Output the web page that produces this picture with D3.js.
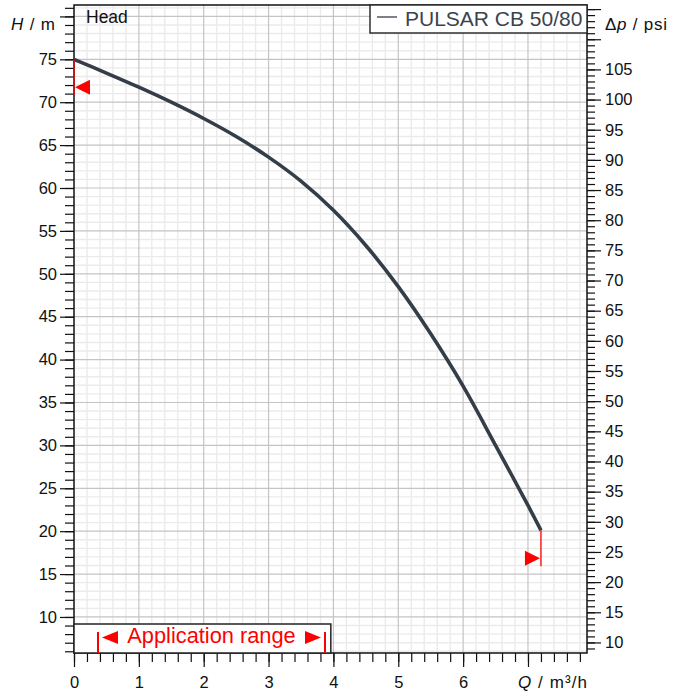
<!DOCTYPE html>
<html>
<head>
<meta charset="utf-8">
<script src="https://cdn.jsdelivr.net/npm/d3@7"></script>
<style>
  html, body { margin: 0; padding: 0; background: #fff; }
  svg { display: block; font-family: "Liberation Sans", Arial, Helvetica, sans-serif; }
</style>
</head>
<body>
<svg id="chart" width="680" height="692"></svg>
<script>
// ---- data ----
const flowQ = [0, 0.5, 1, 1.5, 2, 2.5, 3, 3.5, 4, 4.5, 5, 5.5, 6, 6.5, 7, 7.2];
const headH = [75, 73.4, 71.75, 70.0, 68.1, 66.0, 63.6, 60.8, 57.4, 53.3, 48.5, 43.0, 36.9, 30.0, 23.0, 20.1];
const xTickLabels = [0, 1, 2, 3, 4, 5, 6];
const hTickLabels = [10, 15, 20, 25, 30, 35, 40, 45, 50, 55, 60, 65, 70, 75];
const psiTickLabels = [10, 15, 20, 25, 30, 35, 40, 45, 50, 55, 60, 65, 70, 75, 80, 85, 90, 95, 100, 105];
const appRange = [0.37, 3.87];
const seriesName = "PULSAR CB 50/80";
const PSI_PER_M = 1.42233;

// ---- layout ----
const svg = d3.select("#chart");
const L = 74, R = 587, T = 5, B = 653;
const x = d3.scaleLinear().domain([0, 7.91]).range([L, R]);
const y = d3.scaleLinear().domain([5.8, 81.33]).range([B, T]);
const yPsi = d3.scaleLinear().domain([5.8 * PSI_PER_M, 81.33 * PSI_PER_M]).range([B, T]);

const fontFam = '"Liberation Sans", Arial, Helvetica, sans-serif';
const minorX = d3.range(0, 79).map(i => +(i * 0.2).toFixed(1)).filter(v => v <= 7.9);
const minorH = d3.range(6, 82);
const majorH = d3.range(10, 81, 5);
const minorPsi = d3.range(9, 116);
const majorPsi = d3.range(10, 116, 5);
const majorX = d3.range(0, 8);

// ---- grid ----
const g = svg.append("g");
g.selectAll("line.vmin").data(minorX.filter(v => Math.abs(v - Math.round(v)) > 1e-6)).join("line")
  .attr("x1", d => x(d)).attr("x2", d => x(d)).attr("y1", T).attr("y2", B)
  .attr("stroke", "#ebebeb").attr("stroke-width", 1.4);
g.selectAll("line.hmin").data(minorH.filter(v => v % 5 !== 0)).join("line")
  .attr("x1", L).attr("x2", R).attr("y1", d => y(d)).attr("y2", d => y(d))
  .attr("stroke", "#ebebeb").attr("stroke-width", 1.4);
g.selectAll("line.vmaj").data(majorX.filter(v => v > 0)).join("line")
  .attr("x1", d => x(d)).attr("x2", d => x(d)).attr("y1", T).attr("y2", B)
  .attr("stroke", "#c4c4c4").attr("stroke-width", 1.2);
g.selectAll("line.hmaj").data(majorH).join("line")
  .attr("x1", L).attr("x2", R).attr("y1", d => y(d)).attr("y2", d => y(d))
  .attr("stroke", "#c4c4c4").attr("stroke-width", 1.2);

// ---- axes ----
function styleAxis(sel) {
  sel.select(".domain").remove();
  sel.selectAll("line").attr("stroke", "#111").attr("stroke-width", 1.2);
  sel.selectAll("text").attr("fill", "#111").style("font-size", "16.5px").style("font-family", fontFam);
}
// left
svg.append("g").attr("transform", `translate(${L},0)`)
  .call(d3.axisLeft(y).tickValues(minorH).tickSize(9).tickFormat(""))
  .call(styleAxis);
svg.append("g").attr("transform", `translate(${L},0)`)
  .call(d3.axisLeft(y).tickValues(majorH).tickSize(14).tickPadding(3)
    .tickFormat(d => hTickLabels.includes(d) ? d : ""))
  .call(styleAxis);
// right
svg.append("g").attr("transform", `translate(${R},0)`)
  .call(d3.axisRight(yPsi).tickValues(minorPsi).tickSize(8).tickFormat(""))
  .call(styleAxis);
svg.append("g").attr("transform", `translate(${R},0)`)
  .call(d3.axisRight(yPsi).tickValues(majorPsi).tickSize(14).tickPadding(4)
    .tickFormat(d => psiTickLabels.includes(d) ? d : ""))
  .call(styleAxis);
// bottom
svg.append("g").attr("transform", `translate(0,${B})`)
  .call(d3.axisBottom(x).tickValues(minorX).tickSize(9).tickFormat(""))
  .call(styleAxis);
svg.append("g").attr("transform", `translate(0,${B})`)
  .call(d3.axisBottom(x).tickValues(majorX).tickSize(14).tickPadding(9)
    .tickFormat(d => xTickLabels.includes(d) ? d : ""))
  .call(styleAxis);

// frame
svg.append("rect").attr("x", L).attr("y", T).attr("width", R - L).attr("height", B - T)
  .attr("fill", "none").attr("stroke", "#111").attr("stroke-width", 1.5);

// ---- curve ----
const pts = flowQ.map((q, i) => [q, headH[i]]);
svg.append("path").datum(pts)
  .attr("d", d3.line().x(d => x(d[0])).y(d => y(d[1])).curve(d3.curveCatmullRom.alpha(0.5)))
  .attr("fill", "none").attr("stroke", "#353e48").attr("stroke-width", 3.6)
  .attr("stroke-linecap", "butt");

// ---- end markers ----
const red = "#ff0000";
function endMarker(q, h, dir) {
  const px = x(q), py = y(h);
  svg.append("line").attr("x1", px).attr("x2", px).attr("y1", py).attr("y2", py + 36)
    .attr("stroke", red).attr("stroke-width", 1.3);
  const cy = py + 28, w = 15, hh = 7.5;
  const pth = dir < 0
    ? `M${px + 1},${cy} L${px + 1 + w},${cy - hh} L${px + 1 + w},${cy + hh} Z`
    : `M${px - 1},${cy} L${px - 1 - w},${cy - hh} L${px - 1 - w},${cy + hh} Z`;
  svg.append("path").attr("d", pth).attr("fill", red);
}
endMarker(flowQ[0], headH[0], -1);
endMarker(flowQ[flowQ.length - 1], headH[headH.length - 1], 1);

// ---- application range box ----
const boxTop = 624;
svg.append("rect").attr("x", L).attr("y", boxTop).attr("width", x(3.96) - L).attr("height", B - boxTop)
  .attr("fill", "#fff").attr("stroke", "#222").attr("stroke-width", 1.5);
const a0 = x(appRange[0]), a1 = x(appRange[1]);
[a0, a1].forEach(ax => {
  svg.append("line").attr("x1", ax).attr("x2", ax).attr("y1", 632).attr("y2", B)
    .attr("stroke", red).attr("stroke-width", 2);
});
const ty = 637.5;
svg.append("path").attr("d", `M${a0 + 4},${ty} L${a0 + 20},${ty - 6.5} L${a0 + 20},${ty + 6.5} Z`).attr("fill", red);
svg.append("path").attr("d", `M${a1 - 4},${ty} L${a1 - 20},${ty - 6.5} L${a1 - 20},${ty + 6.5} Z`).attr("fill", red);
svg.append("text").attr("x", (a0 + a1) / 2).attr("y", 643).attr("text-anchor", "middle")
  .attr("fill", red).style("font-size", "21.8px").text("Application range");

// ---- legend ----
const lgX = 370;
svg.append("rect").attr("x", lgX).attr("y", T).attr("width", R - lgX).attr("height", 28)
  .attr("fill", "#fff").attr("stroke", "#222").attr("stroke-width", 1.4);
svg.append("line").attr("x1", 377).attr("x2", 397).attr("y1", 17).attr("y2", 17)
  .attr("stroke", "#353e48").attr("stroke-width", 1.3);
svg.append("text").attr("x", 405).attr("y", 25.5).attr("fill", "#3b444e")
  .style("font-size", "21px").text(seriesName);

// ---- titles ----
svg.append("text").attr("x", 86).attr("y", 23).attr("fill", "#111").style("font-size", "17.5px").text("Head");
const hT = svg.append("text").attr("x", 11).attr("y", 30).attr("fill", "#111").style("font-size", "17px")
  .attr("textLength", 44).attr("lengthAdjust", "spacing");
hT.append("tspan").style("font-style", "italic").text("H");
hT.append("tspan").text(" / m");
const pT = svg.append("text").attr("x", 605).attr("y", 30).attr("fill", "#111").style("font-size", "17px")
  .attr("textLength", 62).attr("lengthAdjust", "spacing");
pT.append("tspan").text("Δ");
pT.append("tspan").style("font-style", "italic").text("p");
pT.append("tspan").text(" / psi");
const qT = svg.append("text").attr("x", 518).attr("y", 688).attr("fill", "#111").style("font-size", "17px")
  .attr("textLength", 69).attr("lengthAdjust", "spacing");
qT.append("tspan").style("font-style", "italic").text("Q");
qT.append("tspan").text(" / m³/h");
</script>
</body>
</html>
